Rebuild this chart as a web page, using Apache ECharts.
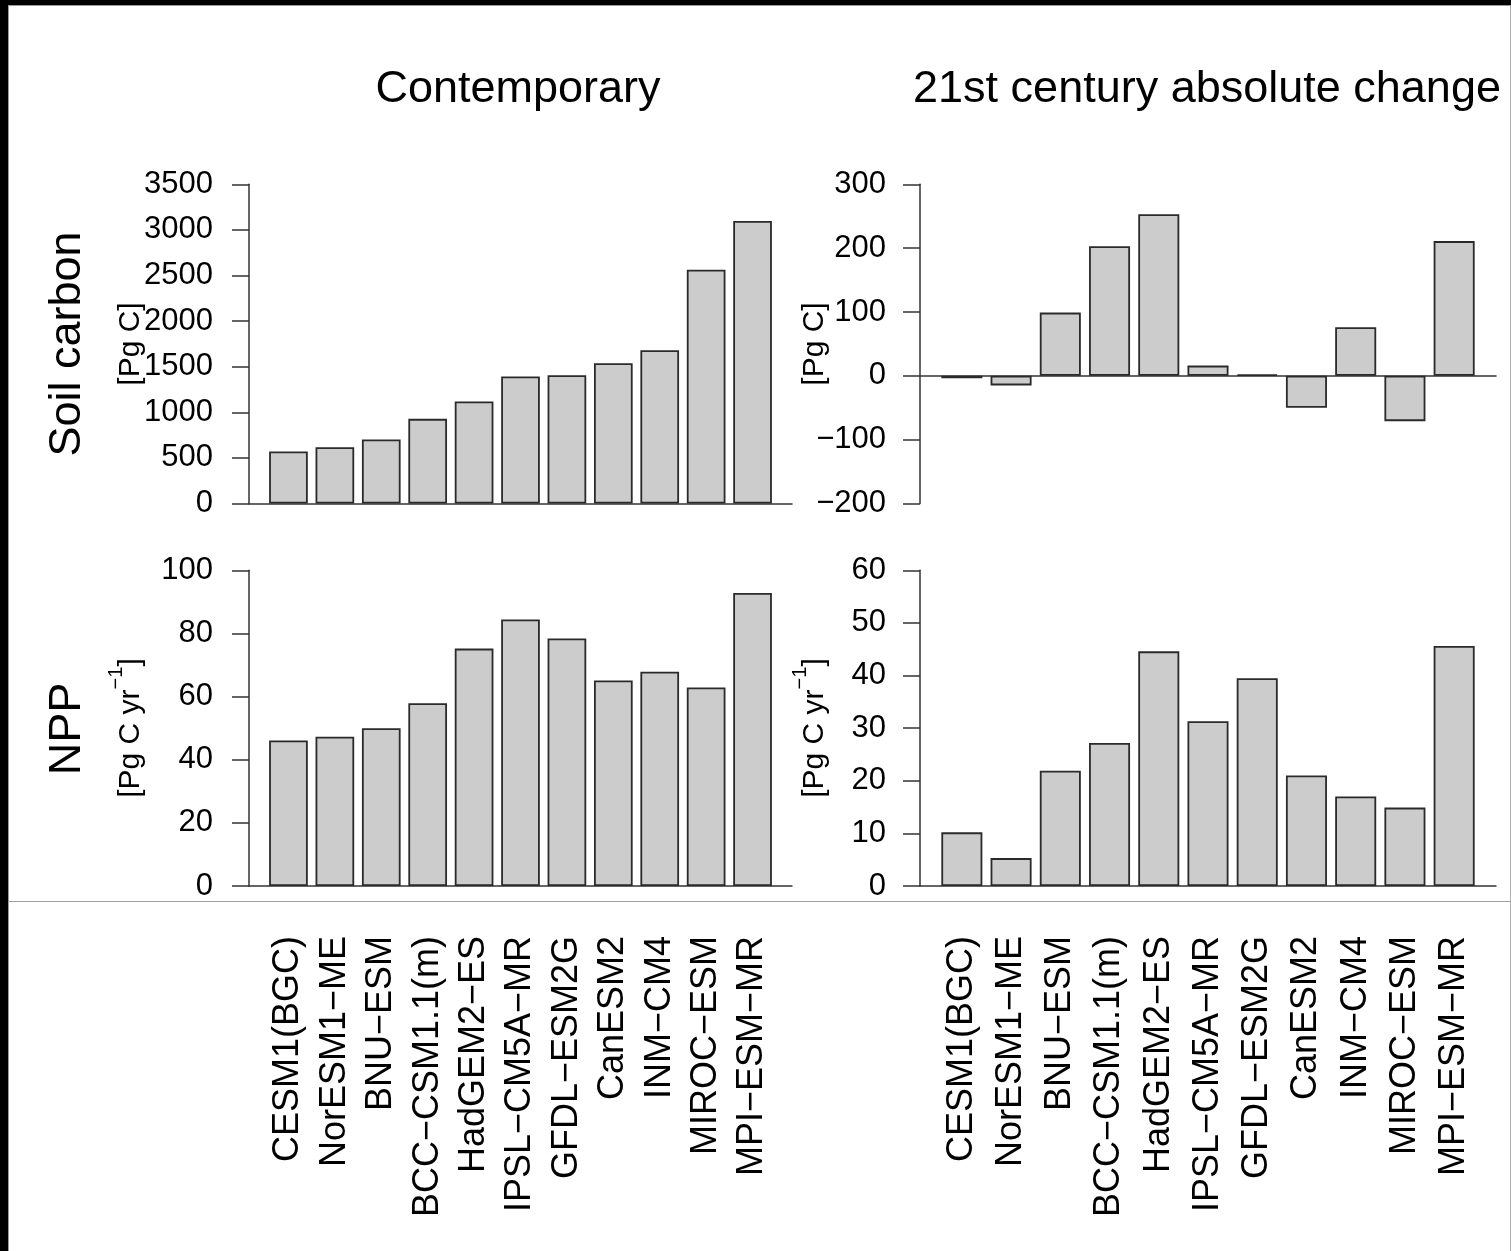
<!DOCTYPE html>
<html>
<head>
<meta charset="utf-8">
<script src="https://cdn.jsdelivr.net/npm/echarts@6/dist/echarts.min.js"></script>
<style>
html,body{margin:0;padding:0;background:#000;}
#page{position:absolute;left:8px;top:5px;width:1501px;height:1246px;background:#fff;border-left:1px solid #9a9a9a;border-top:1px solid #9a9a9a;border-right:1px solid #b0b0b0;}
#hline{position:absolute;left:8px;top:901px;width:1503px;height:1px;background:#a0a0a0;}
#chart{position:absolute;left:0;top:0;width:1511px;height:1251px;}
</style>
</head>
<body>
<div id="page"></div>
<div id="hline"></div>
<div id="chart"></div>
<script>
// ---- data ----
const categories = ["CESM1(BGC)", "NorESM1-ME", "BNU-ESM", "BCC-CSM1.1(m)", "HadGEM2-ES",
  "IPSL-CM5A-MR", "GFDL-ESM2G", "CanESM2", "INM-CM4", "MIROC-ESM", "MPI-ESM-MR"];
const soilContemporary = [570, 618, 701, 928, 1118, 1392, 1407, 1538, 1681, 2564, 3098];
const soilChange = [-4, -15, 99, 203, 253, 16, 2, -50, 76, -71, 211];
const nppContemporary = [46.1, 47.3, 50.0, 57.9, 75.2, 84.4, 78.4, 65.1, 67.9, 62.9, 92.8];
const nppChange = [10.2, 5.3, 21.9, 27.2, 44.6, 31.3, 39.5, 21.0, 17.0, 14.9, 45.6];
const columnTitles = ["Contemporary", "21st century absolute change"];
const rowTitles = ["Soil carbon", "NPP"];
const yTicksSoil = {min: 0, max: 3500, interval: 500};
const yTicksSoilChange = {min: -200, max: 300, interval: 100};
const yTicksNpp = {min: 0, max: 100, interval: 20};
const yTicksNppChange = {min: 0, max: 60, interval: 10};

// ---- layout (R barplot-like coordinates: bar k at 1.2k-0.5, width 1) ----
const FONT = '"Liberation Sans", Arial, Helvetica, sans-serif';
const xPos = categories.map((c, k) => 1.2 * (k + 1) - 0.5);
const X_MIN = -0.32, X_MAX = 13.72;
const minus = s => String(s).replace(/-/g, '\u2212');

const grids = [
  {left: 249, top: 184.3, width: 543, height: 319.2},
  {left: 920, top: 184.3, width: 576, height: 319.2},
  {left: 249, top: 570.3, width: 543, height: 315.7},
  {left: 920, top: 570.3, width: 576, height: 315.7}
];
const panelData = [soilContemporary, soilChange, nppContemporary, nppChange];
const panelTicks = [yTicksSoil, yTicksSoilChange, yTicksNpp, yTicksNppChange];
const labelMargins = [36, 34, 36, 34];

const axisColor = '#333';
const xAxes = grids.map((g, i) => ({
  type: 'value', gridIndex: i, min: X_MIN, max: X_MAX,
  axisLine: {show: true, onZero: true, lineStyle: {color: axisColor, width: 1.5}},
  axisTick: {show: false},
  splitLine: {show: false},
  axisLabel: i >= 2 ? {
    show: true, rotate: 90, margin: 50, customValues: xPos,
    fontSize: 36, fontFamily: FONT, color: '#000',
    formatter: v => minus(categories[Math.round((v + 0.5) / 1.2) - 1] || '')
  } : {show: false}
}));
const yAxes = grids.map((g, i) => ({
  type: 'value', gridIndex: i,
  min: panelTicks[i].min, max: panelTicks[i].max, interval: panelTicks[i].interval,
  axisLine: {show: true, onZero: false, lineStyle: {color: axisColor, width: 1.5}},
  axisTick: {show: true, length: 17, inside: false, lineStyle: {color: axisColor, width: 1.5}},
  splitLine: {show: false},
  axisLabel: {margin: labelMargins[i], fontSize: 31, fontFamily: FONT, color: '#000',
    formatter: v => minus(v)}
}));
const series = panelData.map((vals, i) => ({
  type: 'bar', xAxisIndex: i, yAxisIndex: i,
  barWidth: grids[i].width / (X_MAX - X_MIN),
  data: vals.map((v, k) => [xPos[k], v]),
  itemStyle: {color: '#cccccc', borderColor: '#2a2a2a', borderWidth: 1.8},
  silent: true, animation: false
}));

const unitRich = {
  m: {fontSize: 30, fontFamily: FONT, color: '#000', lineHeight: 40, verticalAlign: 'bottom'},
  s: {fontSize: 20, fontFamily: FONT, color: '#000', lineHeight: 40, verticalAlign: 'top'}
};
function rotText(text, x, y, size) {
  return {type: 'text', x: x, y: y, rotation: Math.PI / 2, silent: true,
    style: {text: text, font: size + 'px ' + FONT, fill: '#000', align: 'center', verticalAlign: 'middle'}};
}
function unitText(x, y) {
  return {type: 'text', x: x, y: y, rotation: Math.PI / 2, silent: true,
    style: {text: '{m|[Pg C yr}{s|\u22121}{m|]}', rich: unitRich, align: 'center', verticalAlign: 'middle'}};
}

const option = {
  backgroundColor: 'transparent',
  animation: false,
  title: [
    {text: columnTitles[0], left: 518, top: 67, textAlign: 'center', padding: 0,
      textStyle: {fontSize: 45, fontWeight: 'normal', fontFamily: FONT, color: '#000'}},
    {text: columnTitles[1], left: 1207, top: 67, textAlign: 'center', padding: 0,
      textStyle: {fontSize: 45, fontWeight: 'normal', fontFamily: FONT, color: '#000'}}
  ],
  grid: grids.map(g => Object.assign({containLabel: false}, g)),
  xAxis: xAxes,
  yAxis: yAxes,
  series: series,
  graphic: [
    rotText(rowTitles[0], 68, 344, 45),
    rotText(rowTitles[1], 68, 729, 45),
    rotText('[Pg C]', 131, 344, 30),
    rotText('[Pg C]', 815, 344, 30),
    unitText(126, 728),
    unitText(810, 728)
  ]
};
const chart = echarts.init(document.getElementById('chart'), null, {renderer: 'canvas'});
chart.setOption(option);
</script>
</body>
</html>
